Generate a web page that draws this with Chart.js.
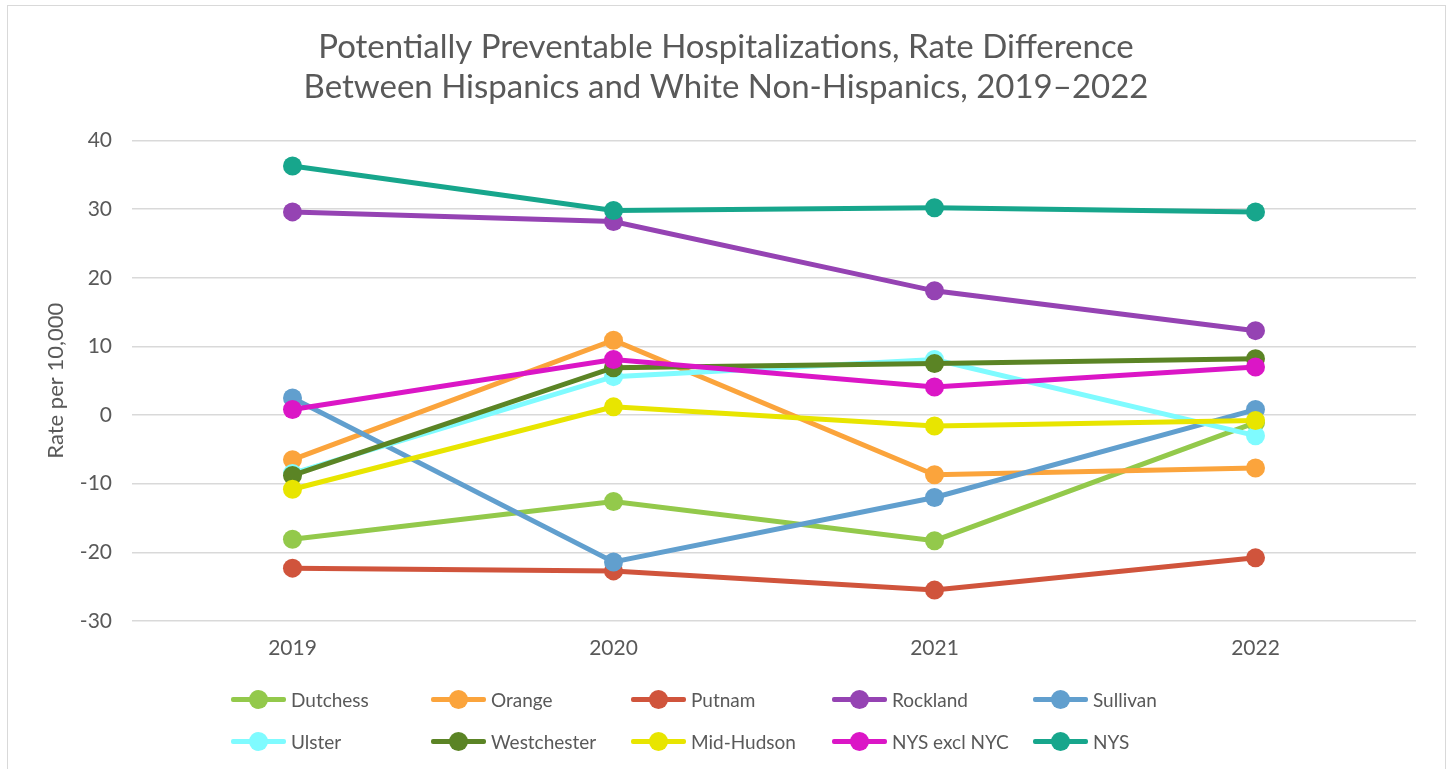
<!DOCTYPE html>
<html>
<head>
<meta charset="utf-8">
<script src="https://cdn.jsdelivr.net/npm/chart.js@4/dist/chart.umd.min.js"></script>
<style>
  html, body { margin: 0; padding: 0; background: #fff; }
  #wrap { position: relative; width: 1452px; height: 769px; overflow: hidden; }
  #frame { position: absolute; left: 7px; top: 5px; width: 1439px; height: 780px; border: 1px solid #d9d9d9; box-sizing: border-box; pointer-events: none; }
  #legend { position: absolute; left: 0; top: 0; width: 1452px; height: 769px; pointer-events: none; font-family: Lato, "Open Sans", sans-serif; font-size: 19px; color: #595959; }
  .item { position: absolute; height: 24px; display: flex; align-items: center; white-space: nowrap; }
  .mark { position: relative; width: 55px; height: 24px; margin-right: 5px; }
  .mark .ln { position: absolute; left: 0; top: 9.5px; width: 55px; height: 5px; border-radius: 2px; }
  .mark .dot { position: absolute; left: 18px; top: 2.5px; width: 19px; height: 19px; border-radius: 50%; }
</style>
</head>
<body>
<div id="wrap">
  <canvas id="c" width="1452" height="769"></canvas>
  <div id="frame"></div>
  <div id="legend"></div>
</div>
<script>
const years = ['2019', '2020', '2021', '2022'];
const seriesNames = ['Dutchess', 'Orange', 'Putnam', 'Rockland', 'Sullivan', 'Ulster', 'Westchester', 'Mid-Hudson', 'NYS excl NYC', 'NYS'];
const dutchess   = [-18.1, -12.6, -18.3, -1.1];
const orange     = [-6.5, 10.9, -8.7, -7.7];
const putnam     = [-22.3, -22.7, -25.5, -20.8];
const rockland   = [29.6, 28.2, 18.1, 12.3];
const sullivan   = [2.5, -21.4, -12.0, 0.8];
const ulster     = [-8.5, 5.6, 8.1, -3.0];
const westchester= [-8.8, 6.9, 7.5, 8.2];
const midHudson  = [-10.8, 1.2, -1.6, -0.8];
const nysExclNyc = [0.8, 8.1, 4.1, 7.0];
const nys        = [36.3, 29.8, 30.2, 29.6];
const yTicks = [-30, -20, -10, 0, 10, 20, 30, 40];

const seriesValues = [dutchess, orange, putnam, rockland, sullivan, ulster, westchester, midHudson, nysExclNyc, nys];
const colors = ['#93C94B', '#FBA43C', '#D0543C', '#9543B3', '#619FCE', '#7FFBFF', '#5B8425', '#E8E500', '#DB16C6', '#17A68C'];

const FONT = 'Lato, "Open Sans", sans-serif';
const TXT = '#595959';

const datasets = seriesNames.map((name, i) => ({
  label: name,
  data: seriesValues[i],
  borderColor: colors[i],
  backgroundColor: colors[i],
  pointBackgroundColor: colors[i],
  pointBorderColor: colors[i],
  borderWidth: 5,
  pointRadius: 9.5,
  pointHoverRadius: 9.5,
  pointBorderWidth: 0,
  tension: 0,
  order: seriesNames.length - i
}));

const chart = new Chart(document.getElementById('c'), {
  type: 'line',
  data: { labels: years, datasets },
  options: {
    responsive: false,
    animation: false,
    layout: { padding: 0 },
    plugins: {
      legend: { display: false },
      tooltip: { enabled: false },
      title: {
        display: true,
        text: ['Potentially Preventable Hospitalizations, Rate Difference', 'Between Hispanics and White Non-Hispanics, 2019\u20132022'],
        color: TXT,
        font: { family: FONT, size: 33, weight: 'normal', lineHeight: 1.22 },
        padding: { top: 27, bottom: 33 }
      }
    },
    scales: {
      x: {
        offset: true,
        grid: { display: false, drawTicks: false },
        border: { display: false },
        ticks: { color: TXT, font: { family: FONT, size: 21 }, padding: 15 },
        afterFit: s => { s.height = 148; }
      },
      y: {
        min: -30, max: 40,
        afterBuildTicks: s => { s.ticks = yTicks.map(v => ({ value: v })); },
        grid: { color: '#d9d9d9', lineWidth: 1.5, drawTicks: false },
        border: { display: false },
        ticks: { color: TXT, font: { family: FONT, size: 21 }, padding: 20 },
        title: { display: true, text: 'Rate per 10,000', color: TXT, font: { family: FONT, size: 22 }, padding: { top: 43 } },
        afterFit: s => { s.width = 132; }
      },
      ySpacer: {
        position: 'right',
        min: -30, max: 40,
        grid: { display: false, drawTicks: false },
        border: { display: false },
        ticks: { display: false },
        afterFit: s => { s.width = 36; }
      }
    }
  }
});

// HTML legend built from chart datasets
const legend = document.getElementById('legend');
const colX = [231, 431, 631, 832, 1033];
const rowY = [699, 741];
chart.data.datasets.forEach((ds, i) => {
  const item = document.createElement('div');
  item.className = 'item';
  item.style.left = colX[i % 5] + 'px';
  item.style.top = (rowY[Math.floor(i / 5)] - 12) + 'px';
  item.innerHTML = '<div class="mark"><div class="ln" style="background:' + ds.borderColor + '"></div><div class="dot" style="background:' + ds.borderColor + '"></div></div><span>' + ds.label + '</span>';
  legend.appendChild(item);
});
</script>
</body>
</html>
